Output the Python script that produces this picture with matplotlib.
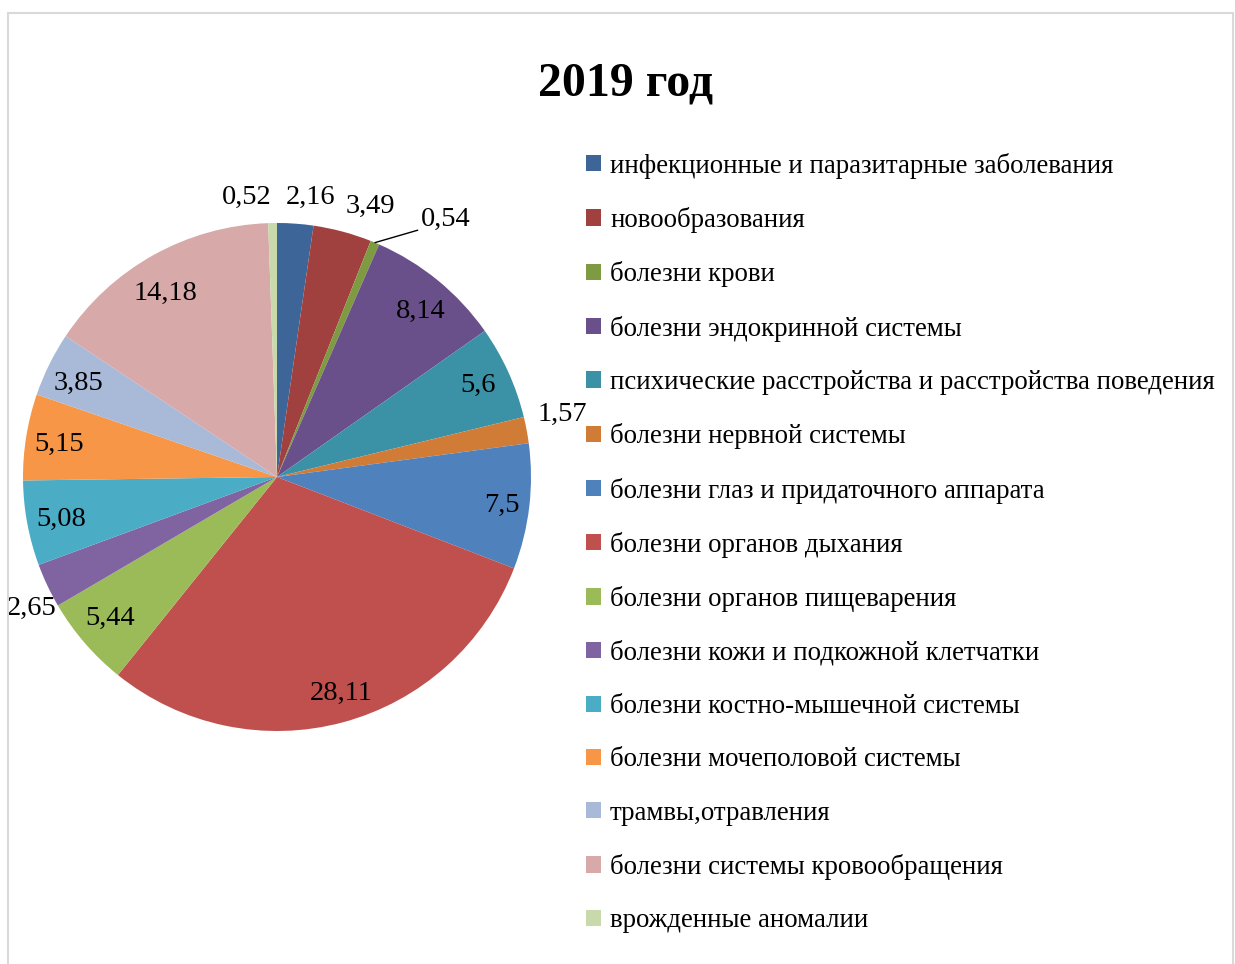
import matplotlib.pyplot as plt
from matplotlib.patches import Rectangle
import numpy as np

plt.rcParams['font.family'] = ['Liberation Serif', 'DejaVu Serif']

# data
categories = [
    'инфекционные и паразитарные заболевания',
    'новообразования',
    'болезни крови',
    'болезни эндокринной системы',
    'психические расстройства и расстройства поведения',
    'болезни нервной системы',
    'болезни глаз и придаточного аппарата',
    'болезни органов дыхания',
    'болезни органов пищеварения',
    'болезни кожи и подкожной клетчатки',
    'болезни костно-мышечной системы',
    'болезни мочеполовой системы',
    'трамвы,отравления',
    'болезни системы кровообращения',
    'врожденные аномалии',
]
values = [2.16, 3.49, 0.54, 8.14, 5.6, 1.57, 7.5, 28.11, 5.44, 2.65, 5.08, 5.15, 3.85, 14.18, 0.52]
value_labels = ['2,16', '3,49', '0,54', '8,14', '5,6', '1,57', '7,5', '28,11',
                '5,44', '2,65', '5,08', '5,15', '3,85', '14,18', '0,52']

colors = ['#3D6597', '#A0413F', '#7E9B42', '#69508A', '#3B91A6', '#D17C36',
          '#4F81BD', '#C0504D', '#9BBB59', '#8064A2', '#4BACC6', '#F79646',
          '#A9B9D8', '#D7A9A8', '#C8DAAB']

# label placement: radial distance, ha, pixel nudges (dx right, dy down)
label_r = [1.12, 1.13, None, 0.87, 0.87, 1.15, 0.89, 0.88, 0.87, 1.09, 0.87, 0.87, 0.87, 0.86, 1.12]
label_ha = ['center', 'center', None, 'center', 'center', 'center', 'center', 'center',
            'center', 'center', 'center', 'center', 'center', 'center', 'right']
label_dx = [13, 19, 0, 4, 0, -2, 0, 6, 0, 5, 2, 0, 0, -5, 0]
label_dy = [4, 7, 0, 5, 0, -9, 2, 1, -3, 13, 2, 2, 4, 7, 5]

W, H = 1235, 964
fig = plt.figure(figsize=(W / 100, H / 100), dpi=100)

# light frame around the chart area
fig.patches.append(Rectangle((8 / W, -0.01), (1233 - 8) / W, 1 - 13 / H + 0.01,
                             transform=fig.transFigure, fill=False,
                             edgecolor='#D9D9D9', linewidth=1.5))

cx, cy, R = 277, 477, 254
ax = fig.add_axes([(cx - R) / W, (H - cy - R) / H, 2 * R / W, 2 * R / H])
wedges, _ = ax.pie(values, colors=colors, startangle=90, counterclock=False,
                   radius=1.0, wedgeprops=dict(linewidth=0))
ax.set_xlim(-1, 1)
ax.set_ylim(-1, 1)
ax.set_aspect('equal')
ax.axis('off')

fs = 20.5
for i, w in enumerate(wedges):
    ang = np.deg2rad((w.theta1 + w.theta2) / 2)
    if label_r[i] is None:
        # small slice with leader line
        ax.annotate(value_labels[i], xy=(np.cos(ang), np.sin(ang)),
                    xytext=(0.565, 0.965), ha='left', va='bottom', fontsize=fs,
                    arrowprops=dict(arrowstyle='-', color='black', lw=1,
                                    relpos=(0, 0.1), shrinkA=0, shrinkB=0))
        continue
    x = label_r[i] * np.cos(ang) + label_dx[i] / R
    y = label_r[i] * np.sin(ang) - label_dy[i] / R
    ax.text(x, y, value_labels[i], ha=label_ha[i], va='center', fontsize=fs)

fig.text(626 / W, 1 - 84 / H, '2019 год', ha='center', va='center',
         fontsize=34.5, fontweight='bold')

fig.legend(wedges, categories, loc='upper left', bbox_to_anchor=(575 / W, 1 - 142 / H),
           frameon=False, fontsize=19.4, handlelength=0.55, handleheight=0.55,
           handletextpad=0.35, labelspacing=1.05, borderaxespad=0)

fig.savefig('out.png', dpi=100)
